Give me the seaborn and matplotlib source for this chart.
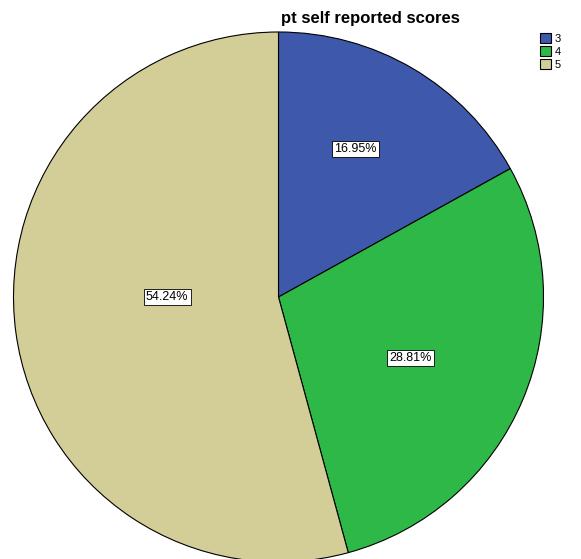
import numpy as np
import seaborn as sns
import matplotlib.pyplot as plt

# pt self reported scores (counts out of 59)
categories = ['3', '4', '5']
percents = [16.95, 28.81, 54.24]
colors = ['#3e58ac', '#2eb848', '#d3ce97']

sns.set_theme(style='white')
plt.rcParams['font.family'] = ['Liberation Sans', 'DejaVu Sans']
plt.rcParams['text.color'] = 'black'

fig = plt.figure(figsize=(5.81, 5.59), dpi=100)
ax = fig.add_axes([13.5 / 581, -3 / 559, 530 / 581, 530 / 559])

wedges, texts, autotexts = ax.pie(
    percents, colors=colors, startangle=90, counterclock=False,
    autopct='%.2f%%', pctdistance=0.6,
    wedgeprops=dict(edgecolor='black', linewidth=0.8),
    textprops=dict(fontsize=9, color='black'),
)

# move each label to roughly where SPSS put it
dist = [0.63, 0.55, 0.42]
shift = [3, -2, -7.6]
for w, t, d, s in zip(wedges, autotexts, dist, shift):
    ang = np.deg2rad((w.theta1 + w.theta2) / 2 + s)
    t.set_position((d * np.cos(ang), d * np.sin(ang)))
    t.set_bbox(dict(facecolor='white', edgecolor='black', linewidth=0.6, pad=1.5))

ax.set_xlim(-1, 1)
ax.set_ylim(-1, 1)
ax.set_aspect('equal')
ax.axis('off')

fig.text(370 / 581, 1 - 18 / 559, 'pt self reported scores', ha='center', va='center',
         fontsize=12, fontweight='bold', color='black')

fig.legend(wedges, categories, loc='upper left', bbox_to_anchor=(540 / 581, 1 - 33 / 559),
           frameon=False, fontsize=8, handlelength=1.0, handleheight=1.0,
           handletextpad=0.3, labelspacing=0.2, borderaxespad=0, borderpad=0,
           labelcolor='black')

fig.savefig('out.png', dpi=100)
